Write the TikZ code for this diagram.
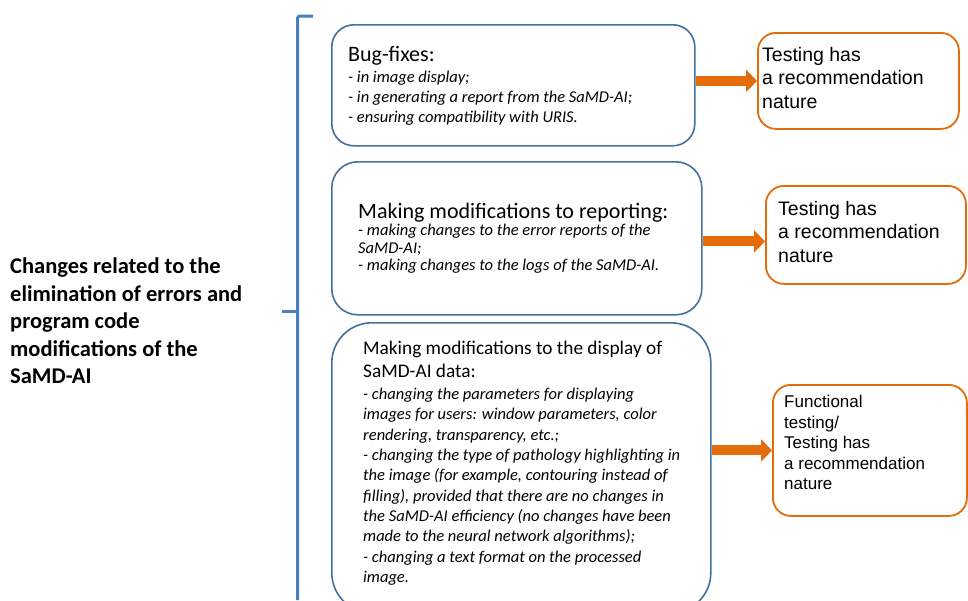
\documentclass[tikz,border=0pt]{standalone}
\usepackage{fontspec}
\setmainfont{Carlito}
\newfontfamily\arialf{Liberation Sans}
\usetikzlibrary{arrows.meta}
\definecolor{boxblue}{HTML}{41719C}
\definecolor{braceblue}{HTML}{4A7EC4}
\definecolor{orng}{HTML}{E46C0A}
\tikzset{
  bluebox/.style={draw=boxblue, line width=1.6pt, fill=white, rectangle, inner sep=0pt},
  orbox/.style={draw=orng, line width=1.8pt, fill=white, rectangle, inner sep=0pt, rounded corners=18pt},
  txt/.style={anchor=north west, inner sep=0pt, align=left},
  arr/.style={orng, line width=10pt, -{Triangle[width=22pt,length=11pt]}},
}
\begin{document}
\begin{tikzpicture}[x=1pt,y=-1pt]
\useasboundingbox (0,0) rectangle (968,600);
% brace
\draw[braceblue, line width=3pt, line cap=butt] (313,16) -- (299,16) -- (297.5,18) -- (297.5,600);
\coordinate (bracetip) at (282,311);
\coordinate (bracemid) at (297.5,311);
\draw[braceblue, line width=3pt] (bracetip) -- (bracemid);
% left text
\node[txt, font=\fontsize{22.5}{27.5}\selectfont\bfseries] (lefttxt) at (10,258)
  {Changes related to the\\elimination of errors and\\program code\\modifications of the\\SaMD-AI};
% blue boxes
\node[bluebox, rounded corners=22pt, minimum width=363pt, minimum height=121pt, anchor=north west] (b1) at (331,24) {};
\node[bluebox, rounded corners=26pt, minimum width=370pt, minimum height=153pt, anchor=north west] (b2) at (331,161) {};
\node[bluebox, rounded corners=40pt, minimum width=379pt, minimum height=290pt, anchor=north west] (b3) at (331,322) {};
% texts in blue boxes
\node[txt, font=\fontsize{22}{24}\selectfont] (t1) at (348,46) {Bug-fixes:};
\node[txt, font=\fontsize{16.5}{20}\selectfont\itshape] (i1) at (348,71)
  {- in image display;\\- in generating a report from the SaMD-AI;\\- ensuring compatibility with URIS.};
\node[txt, font=\fontsize{22}{24}\selectfont] (t2) at (358,203) {Making modifications to reporting:};
\node[txt, font=\fontsize{16.5}{17.5}\selectfont\itshape] (i2) at (358,224)
  {- making changes to the error reports of the\\SaMD-AI;\\- making changes to the logs of the SaMD-AI.};
\node[txt, font=\fontsize{19.3}{23}\selectfont] (t3) at (363,341) {Making modifications to the display of\\SaMD-AI data:};
\node[txt, font=\fontsize{16.5}{20.3}\selectfont\itshape] (i3) at (363,388)
  {- changing the parameters for displaying\\images for users: window parameters, color\\rendering, transparency, etc.;\\- changing the type of pathology highlighting in\\the image (for example, contouring instead of\\filling), provided that there are no changes in\\the SaMD-AI efficiency (no changes have been\\made to the neural network algorithms);\\- changing a text format on the processed\\image.};
% orange boxes
\node[orbox, minimum width=201pt, minimum height=96pt, anchor=north west] (o1) at (757,32) {};
\node[orbox, minimum width=200pt, minimum height=98pt, anchor=north west] (o2) at (765,185) {};
\node[orbox, minimum width=194pt, minimum height=131pt, anchor=north west] (o3) at (772,384) {};
\node[txt, font=\arialf\fontsize{19.5}{23.5}\selectfont] (ot1) at (762,47) {Testing has\\a recommendation\\nature};
\node[txt, font=\arialf\fontsize{19.5}{23.5}\selectfont] (ot2) at (778,201) {Testing has\\a recommendation\\nature};
\node[txt, font=\arialf\fontsize{17}{20.5}\selectfont] (ot3) at (784,395) {Functional\\testing/\\Testing has\\a recommendation\\nature};
% arrows
\draw[arr] (b1.east |- o1.west) -- (o1.west);
\draw[arr] ([yshift=-6.5pt]b2.east |- o2.west) -- ([yshift=-6.5pt]o2.west);
\draw[arr] (b3.east |- o3.west) -- (o3.west);
\end{tikzpicture}
\end{document}
